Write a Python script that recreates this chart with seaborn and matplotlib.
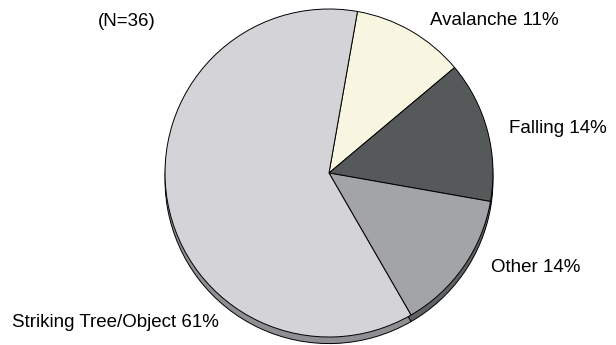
import matplotlib
matplotlib.use("Agg")
import matplotlib.pyplot as plt
import seaborn as sns

sns.set_theme(style="white")
plt.rcParams["font.family"] = ["Liberation Sans", "DejaVu Sans"]

# Causes of injury (counts out of N)
categories = ["Avalanche", "Falling", "Other", "Striking Tree/Object"]
counts = [4, 5, 5, 22]
face_colors = ["#f8f6e1", "#56595a", "#a3a4a7", "#d4d3d8"]
side_colors = ["#c9c7b4", "#3e4142", "#5f6264", "#8e8f92"]

total = sum(counts)

fig = plt.figure(figsize=(6.16, 3.45), dpi=100)
ax = fig.add_axes([0, 0, 1, 1])

# depth band underneath the top face
depth = 0.04
ax.pie(counts, colors=side_colors, startangle=80, counterclock=False,
       center=(0, -depth), radius=1.0,
       wedgeprops=dict(edgecolor="black", linewidth=0.7))
# top face
ax.pie(counts, colors=face_colors, startangle=80, counterclock=False,
       center=(0, 0), radius=1.0,
       wedgeprops=dict(edgecolor="black", linewidth=0.7))

label_pos = {
    "Avalanche": (0.616, 0.93),
    "Falling": (1.098, 0.274),
    "Other": (0.988, -0.579),
    "Striking Tree/Object": (-1.933, -0.909),
}
for cat, n in zip(categories, counts):
    x, y = label_pos[cat]
    ax.text(x, y, f"{cat} {round(100 * n / total)}%", ha="left", va="center",
            fontsize=13.5, color="black")

ax.text(-1.409, 0.921, f"(N={total})", ha="left", va="center",
        fontsize=13.5, color="black")

ax.set_xlim(-329 / 164, (616 - 329) / 164)
ax.set_ylim((173 - 345) / 164, 173 / 164)
ax.set_aspect("auto")
ax.axis("off")

fig.savefig("out.png", dpi=100, facecolor="white")
